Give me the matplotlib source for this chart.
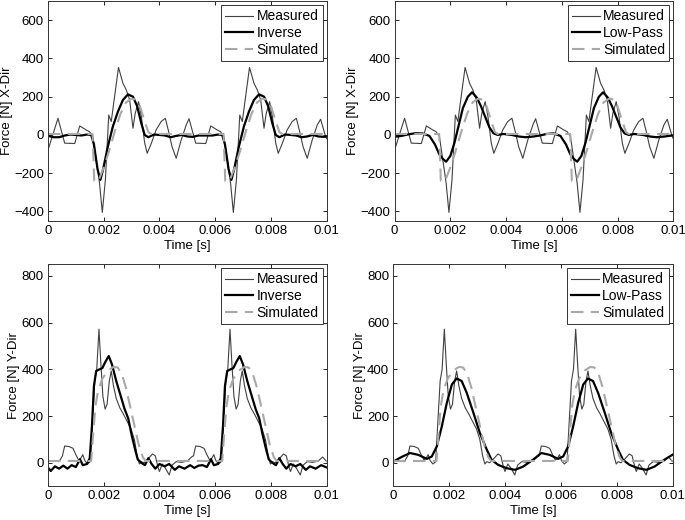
import matplotlib.pyplot as plt

plt.rcParams['font.family'] = ['Liberation Sans', 'DejaVu Sans']
plt.rcParams['font.size'] = 9.5

# ---- X direction ----
t_meas_x = [0.00000, 0.00036, 0.00060, 0.00096, 0.00114, 0.00137, 0.00149, 0.00161, 0.00173, 0.00185,
            0.00195, 0.00206, 0.00218, 0.00227, 0.00253, 0.00269, 0.00281, 0.00293, 0.00305, 0.00313,
            0.00325, 0.00335, 0.00347, 0.00356, 0.00371, 0.00388, 0.00406, 0.00421, 0.00433, 0.00445,
            0.00460, 0.00478, 0.00496, 0.00506, 0.00530, 0.00566, 0.00584, 0.00607, 0.00619, 0.00631,
            0.00643, 0.00655, 0.00665, 0.00676, 0.00688, 0.00697, 0.00723, 0.00739, 0.00751, 0.00763,
            0.00775, 0.00783, 0.00795, 0.00805, 0.00817, 0.00826, 0.00841, 0.00858, 0.00876, 0.00891,
            0.00903, 0.00915, 0.00930, 0.00948, 0.00966, 0.00978, 0.00996, 0.01000]
f_meas_x = [-80, 87, -43, -45, 47, 26, 17, -9, -130, -252,
            -405, -235, 104, 70, 353, 270, 235, 183, 35, 113,
            174, 96, -43, -96, -43, 26, 70, 87, 17, -61,
            -122, -26, 52, 85, -43, -45, 47, 26, 17, -9,
            -130, -252, -405, -235, 104, 70, 353, 270, 235, 183,
            35, 113, 174, 96, -43, -96, -43, 26, 70, 87,
            17, -61, -122, -26, 52, 82, -9, -20]

t_sim_x = [0.00000, 0.00160, 0.00166, 0.00180, 0.00200, 0.00220, 0.00240, 0.00260, 0.00280, 0.00300,
           0.00315, 0.00330, 0.00345, 0.00360, 0.00370, 0.00630, 0.00636, 0.00650, 0.00670, 0.00690,
           0.00710, 0.00730, 0.00750, 0.00770, 0.00785, 0.00800, 0.00815, 0.00830, 0.00840, 0.01000]
f_sim_x = [5, 5, -240, -245, -170, -80, 20, 110, 170, 190,
           185, 150, 80, 15, 5, 5, -240, -245, -170, -80,
           20, 110, 170, 190, 185, 150, 80, 15, 5, 5]

t_inv_x = [0.00000, 0.00020, 0.00040, 0.00060, 0.00080, 0.00100, 0.00120, 0.00140, 0.00155, 0.00165,
           0.00178, 0.00188, 0.00197, 0.00215, 0.00233, 0.00251, 0.00269, 0.00287, 0.00305, 0.00320,
           0.00335, 0.00347, 0.00360, 0.00380, 0.00400, 0.00420, 0.00440, 0.00460, 0.00480, 0.00500,
           0.00520, 0.00540, 0.00570, 0.00590, 0.00610, 0.00625, 0.00635, 0.00648, 0.00658, 0.00667,
           0.00685, 0.00703, 0.00721, 0.00739, 0.00757, 0.00775, 0.00790, 0.00805, 0.00817, 0.00830,
           0.00850, 0.00870, 0.00890, 0.00910, 0.00930, 0.00950, 0.00970, 0.00990, 0.01000]
f_inv_x = [-5, -12, -12, -3, 2, 0, -3, 2, 0, -50,
           -180, -235, -185, -60, 45, 122, 183, 212, 200, 150,
           60, 0, -12, 2, 0, -3, -12, -5, 0, -8,
           -10, -3, -3, -3, 2, 0, -50, -180, -235, -185,
           -60, 45, 122, 183, 212, 200, 150, 60, 0, -12,
           2, 0, -3, -12, -8, 0, -8, -10, -8]

t_lp_x = [0.00000, 0.00025, 0.00050, 0.00075, 0.00100, 0.00125, 0.00145, 0.00160, 0.00173, 0.00185,
          0.00200, 0.00215, 0.00230, 0.00245, 0.00263, 0.00278, 0.00295, 0.00310, 0.00325, 0.00340,
          0.00355, 0.00370, 0.00390, 0.00420, 0.00445, 0.00470, 0.00500, 0.00525, 0.00545, 0.00570,
          0.00595, 0.00615, 0.00630, 0.00643, 0.00655, 0.00670, 0.00685, 0.00700, 0.00715, 0.00733,
          0.00748, 0.00765, 0.00780, 0.00795, 0.00810, 0.00825, 0.00840, 0.00860, 0.00890, 0.00915,
          0.00940, 0.00970, 0.01000]
f_lp_x = [-10, -5, 3, 9, 8, -5, -50, -100, -125, -140,
          -110, -40, 50, 140, 200, 223, 195, 150, 95, 40,
          8, 0, 5, 0, -8, -12, -8, -2, 5, 8,
          -5, -50, -100, -125, -140, -110, -40, 50, 140, 200,
          223, 195, 150, 95, 40, 8, 0, 5, 0, -8,
          -12, -8, -2]

# ---- Y direction ----
t_meas_y = [0.00000, 0.00020, 0.00040, 0.00052, 0.00060, 0.00075, 0.00090, 0.00100, 0.00110, 0.00118,
            0.00125, 0.00132, 0.00142, 0.00152, 0.00160, 0.00168, 0.00175, 0.00183, 0.00190, 0.00197,
            0.00205, 0.00212, 0.00220, 0.00227, 0.00235, 0.00245, 0.00258, 0.00270, 0.00285, 0.00298,
            0.00310, 0.00320, 0.00328, 0.00335, 0.00345, 0.00360, 0.00375, 0.00385, 0.00395, 0.00400,
            0.00410, 0.00420, 0.00435, 0.00445, 0.00460, 0.00480, 0.00500, 0.00515, 0.00522, 0.00530,
            0.00545, 0.00560, 0.00570, 0.00580, 0.00588, 0.00595, 0.00602, 0.00612, 0.00622, 0.00630,
            0.00638, 0.00645, 0.00653, 0.00660, 0.00667, 0.00675, 0.00682, 0.00690, 0.00697, 0.00705,
            0.00715, 0.00728, 0.00740, 0.00755, 0.00768, 0.00780, 0.00790, 0.00798, 0.00805, 0.00815,
            0.00830, 0.00845, 0.00855, 0.00865, 0.00870, 0.00880, 0.00890, 0.00905, 0.00915, 0.00930,
            0.00950, 0.00970, 0.00985, 0.01000]
f_meas_y = [5, 8, 5, 30, 72, 70, 62, 35, 12, 20,
            35, 10, -5, 5, 180, 350, 400, 572, 420, 285,
            230, 250, 350, 393, 330, 275, 235, 210, 175, 145,
            100, 30, -5, 5, 0, 18, 38, 30, -20, -37,
            -5, -20, -52, -10, 5, 2, 8, 25, 30, 72,
            70, 62, 35, 12, 20, 35, 10, -5, 5, 180,
            350, 400, 572, 420, 285, 230, 250, 350, 393, 330,
            275, 235, 210, 175, 145, 100, 30, -5, 5, 0,
            18, 38, 30, -20, -37, -5, -20, -52, -10, 5,
            2, 8, 25, 5]

t_sim_y = [0.00000, 0.00155, 0.00162, 0.00170, 0.00180, 0.00195, 0.00215, 0.00235, 0.00250, 0.00265,
           0.00280, 0.00295, 0.00310, 0.00325, 0.00340, 0.00350, 0.00625, 0.00632, 0.00640, 0.00650,
           0.00665, 0.00685, 0.00705, 0.00720, 0.00735, 0.00750, 0.00765, 0.00780, 0.00795, 0.00810,
           0.00820, 0.01000]
f_sim_y = [8, 8, 120, 240, 310, 360, 395, 410, 408, 380,
           320, 240, 160, 80, 25, 8, 8, 120, 240, 310,
           360, 395, 410, 408, 380, 320, 240, 160, 80, 25,
           8, 8]

t_inv_y = [0.00000, 0.00010, 0.00025, 0.00040, 0.00055, 0.00070, 0.00085, 0.00100, 0.00115, 0.00125,
           0.00140, 0.00150, 0.00158, 0.00165, 0.00173, 0.00185, 0.00195, 0.00205, 0.00218, 0.00230,
           0.00245, 0.00260, 0.00275, 0.00288, 0.00300, 0.00312, 0.00322, 0.00335, 0.00348, 0.00360,
           0.00372, 0.00385, 0.00400, 0.00418, 0.00435, 0.00455, 0.00470, 0.00490, 0.00510, 0.00525,
           0.00540, 0.00555, 0.00570, 0.00585, 0.00595, 0.00610, 0.00620, 0.00628, 0.00635, 0.00643,
           0.00655, 0.00665, 0.00675, 0.00688, 0.00700, 0.00715, 0.00730, 0.00745, 0.00758, 0.00770,
           0.00782, 0.00792, 0.00805, 0.00818, 0.00830, 0.00842, 0.00855, 0.00870, 0.00888, 0.00905,
           0.00925, 0.00940, 0.00960, 0.00980, 0.01000]
f_inv_y = [-20, -35, -15, -25, -12, -25, -10, -18, 15, -10,
           -5, 20, 160, 330, 393, 400, 405, 430, 457, 420,
           350, 290, 230, 190, 120, 60, 15, 0, -10, 20,
           -5, -25, -5, -15, -5, -30, -15, -25, -10, -22,
           -12, -10, -18, 15, -10, -5, 20, 160, 330, 393,
           400, 405, 430, 457, 420, 350, 290, 230, 190, 120,
           60, 15, 0, -10, 20, -5, -25, -5, -15, -5,
           -30, -15, -25, -10, -20]

t_lp_y = [0.00000, 0.00030, 0.00060, 0.00090, 0.00120, 0.00138, 0.00156, 0.00174, 0.00192, 0.00210,
          0.00227, 0.00245, 0.00263, 0.00287, 0.00310, 0.00335, 0.00352, 0.00376, 0.00406, 0.00436,
          0.00465, 0.00500, 0.00530, 0.00560, 0.00590, 0.00608, 0.00626, 0.00644, 0.00662, 0.00680,
          0.00697, 0.00715, 0.00733, 0.00757, 0.00780, 0.00805, 0.00822, 0.00846, 0.00876, 0.00906,
          0.00935, 0.00970, 0.01000]
f_lp_y = [5, 25, 42, 34, 17, 27, 70, 156, 257, 335,
          361, 350, 300, 214, 128, 56, 13, -9, -23, -30,
          -16, 13, 42, 34, 17, 27, 70, 156, 257, 335,
          361, 350, 300, 214, 128, 56, 13, -9, -23, -30,
          -16, 13, 35]

panels = [
    ([0.070, 0.575, 0.407, 0.423], 'x', 'Inverse'),
    ([0.576, 0.575, 0.407, 0.423], 'x', 'Low-Pass'),
    ([0.070, 0.065, 0.407, 0.427], 'y', 'Inverse'),
    ([0.574, 0.065, 0.408, 0.427], 'y', 'Low-Pass'),
]

series = {
    'x': (t_meas_x, f_meas_x, t_sim_x, f_sim_x, {'Inverse': (t_inv_x, f_inv_x), 'Low-Pass': (t_lp_x, f_lp_x)}),
    'y': (t_meas_y, f_meas_y, t_sim_y, f_sim_y, {'Inverse': (t_inv_y, f_inv_y), 'Low-Pass': (t_lp_y, f_lp_y)}),
}

fig = plt.figure(figsize=(6.85, 5.2), dpi=100)

for pos, d, name in panels:
    ax = fig.add_axes(pos)
    tm, fm, ts, fs, est = series[d]
    te, fe = est[name]
    ax.plot(tm, fm, color='#404040', lw=0.8, label='Measured')
    ax.plot(te, fe, color='black', lw=1.6, label=name)
    ax.plot(ts, fs, color='#a8a8a8', lw=1.5, ls=(0, (6, 3.5)), label='Simulated')

    ax.set_xlim(0, 0.01)
    ax.set_xticks([0, 0.002, 0.004, 0.006, 0.008, 0.01])
    ax.set_xticklabels(['0', '0.002', '0.004', '0.006', '0.008', '0.01'])
    if d == 'x':
        ax.set_ylim(-450, 700)
        ax.set_yticks([-400, -200, 0, 200, 400, 600])
        ax.set_ylabel('Force [N] X-Dir', labelpad=1)
    else:
        ax.set_ylim(-100, 850)
        ax.set_yticks([0, 200, 400, 600, 800])
        ax.set_ylabel('Force [N] Y-Dir', labelpad=1)
    ax.set_xlabel('Time [s]', labelpad=2)
    ax.tick_params(direction='in', top=True, right=True, length=3, width=0.6, pad=3)
    for s in ax.spines.values():
        s.set_linewidth(0.7)
        s.set_color('#333333')

    leg = ax.legend(loc='upper right', fancybox=False, framealpha=1, edgecolor='#333333',
                    borderaxespad=0.3, borderpad=0.3, labelspacing=0.2,
                    handlelength=2.0, handletextpad=0.25, fontsize=10)
    leg.get_frame().set_linewidth(0.7)

fig.savefig('out.png', dpi=100)
